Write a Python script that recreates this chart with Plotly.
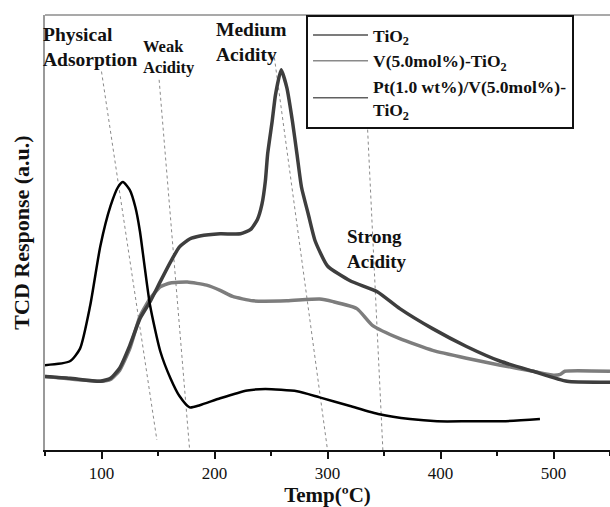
import plotly.graph_objects as go

# ---- data (temperature in ºC, TCD response in arbitrary units) ----
tio2_T = [50, 72, 81, 90, 99, 108, 115, 119, 125, 130, 134, 138, 143, 152, 161, 169, 178,
          187, 205, 229, 245, 273, 293, 320, 346, 373, 397, 426, 455, 488]
tio2_v = [19.5, 20.4, 23.3, 33.2, 46.9, 56.1, 60.6, 61.6, 59.8, 55.8, 50.3, 42.5, 33.2, 22.7,
          16.5, 12.4, 9.8, 10.3, 11.9, 13.7, 14.0, 13.5, 12.1, 10.1, 8.2, 7.1, 6.6, 6.6,
          6.6, 7.1]

v_T = [50, 99, 108, 116, 125, 134, 143, 152, 161, 176, 193, 205, 216, 234, 264, 293,
       305, 326, 340, 364, 393, 423, 453, 482, 500, 506, 510, 550]
v_v = [16.9, 15.8, 16.2, 18.3, 23.3, 30.7, 34.8, 37.5, 38.4, 38.6, 37.9, 36.7, 35.3,
       34.3, 34.3, 34.7, 34.1, 32.5, 28.6, 25.6, 22.9, 21.1, 19.5, 18.1, 17.2, 17.4,
       18.1, 18.1]

pt_T = [50, 72, 99, 108, 116, 125, 134, 143, 152, 161, 169, 178, 187, 205, 223, 232,
        238, 242, 245, 247, 251, 254, 259, 264, 269, 273, 277, 283, 289, 300, 320, 344,
        364, 393, 423, 453, 482, 512, 550]
pt_v = [16.9, 16.5, 15.8, 16.5, 18.8, 24.0, 30.2, 34.1, 38.7, 43.2, 46.7, 48.5, 49.2,
        49.7, 49.7, 50.7, 53.0, 56.5, 61.8, 68.0, 75.5, 81.7, 87.4, 83.3, 75.5, 68.0,
        60.4, 54.2, 48.1, 42.3, 38.9, 36.4, 32.5, 27.9, 23.8, 20.4, 18.1, 15.8, 15.6]

series_names = ["TiO<sub>2</sub>", "V(5.0mol%)-TiO<sub>2</sub>",
                "Pt(1.0 wt%)/V(5.0mol%)-<br>TiO<sub>2</sub>"]

# guide lines (start T, start v, end T, end v)
guide_T0 = [100, 151, 253, 335]
guide_v0 = [87.0, 85.1, 90.2, 76.4]
guide_T1 = [149, 178, 300, 349]
guide_v1 = [2.3, 0.0, 0.0, 0.0]

region_labels = ["Physical<br>Adsorption", "Weak<br>Acidity", "Medium<br>Acidity",
                 "Strong<br>Acidity"]
region_T = [50, 136.7, 201.3, 317.3]
region_shift = [-4, -2, -2, -2]
region_v = [92.7, 90.4, 93.8, 46.2]
region_size = [19.5, 16.5, 19.5, 19]

x_ticks = [100, 200, 300, 400, 500]

SERIF = "Liberation Serif"
fig = go.Figure()

# guide lines
for a, b, c, d in zip(guide_T0, guide_v0, guide_T1, guide_v1):
    fig.add_trace(go.Scatter(x=[a, c], y=[b, d], mode="lines", showlegend=False,
                             line=dict(color="#8a8a8a", width=1, dash="dot"),
                             hoverinfo="skip"))

# curves
fig.add_trace(go.Scatter(x=v_T, y=v_v, mode="lines", showlegend=False,
                         line=dict(color="#7d7d7d", width=3.5, shape="spline", smoothing=0.5)))
fig.add_trace(go.Scatter(x=pt_T, y=pt_v, mode="lines", showlegend=False,
                         line=dict(color="#3e3e3e", width=3.5, shape="spline", smoothing=0.5)))
fig.add_trace(go.Scatter(x=tio2_T, y=tio2_v, mode="lines", showlegend=False,
                         line=dict(color="#000000", width=2.5, shape="spline", smoothing=0.6)))

# legend entries
legend_colors = ["#505050", "#8a8a8a", "#606060"]
for name, col in zip(series_names, legend_colors):
    fig.add_trace(go.Scatter(x=[None], y=[None], mode="lines", name=name,
                             line=dict(color=col, width=1.5)))

for txt, t, v, s, sh in zip(region_labels, region_T, region_v, region_size, region_shift):
    fig.add_annotation(x=t, y=v, xref="x", yref="y", text=txt, showarrow=False,
                       xanchor="left", yanchor="middle", align="left", xshift=sh,
                       font=dict(family=SERIF, size=s, color="#111", weight="bold"))

# top border
fig.add_shape(type="line", xref="paper", yref="paper", x0=0, x1=1, y0=1, y1=1,
              line=dict(color="#8c8c8c", width=1.5))

fig.update_layout(
    width=610, height=507,
    margin=dict(l=45, r=0, t=15, b=55),
    paper_bgcolor="white", plot_bgcolor="white",
    font=dict(family=SERIF, color="#111"),
    showlegend=True,
    legend=dict(x=0.462, y=1.0, xanchor="left", yanchor="top",
                bordercolor="#111", borderwidth=2, bgcolor="white",
                font=dict(family=SERIF, size=17.5, color="#111", weight="bold"),
                tracegroupgap=0, itemwidth=55),
    xaxis=dict(range=[50, 550], tickvals=x_ticks, showgrid=False, zeroline=False,
               showline=True, linecolor="#111", linewidth=2,
               ticks="outside", ticklen=7, tickwidth=1.5, tickcolor="#111",
               minor=dict(dtick=50, tick0=50, ticks="outside", ticklen=4, tickwidth=1.5,
                          tickcolor="#111", showgrid=False),
               tickfont=dict(family=SERIF, size=17, color="#111"),
               title=dict(text="Temp(ºC)", standoff=9,
                          font=dict(family=SERIF, size=21, color="#111", weight="bold"))),
    yaxis=dict(range=[0, 100], showgrid=False, zeroline=False, showticklabels=False,
               ticks="", showline=True, linecolor="#9a9a9a", linewidth=2,
               title=dict(text="TCD Response (a.u.)", standoff=7,
                          font=dict(family=SERIF, size=22, color="#111", weight="bold"))),
)

fig.write_html("out.html")
